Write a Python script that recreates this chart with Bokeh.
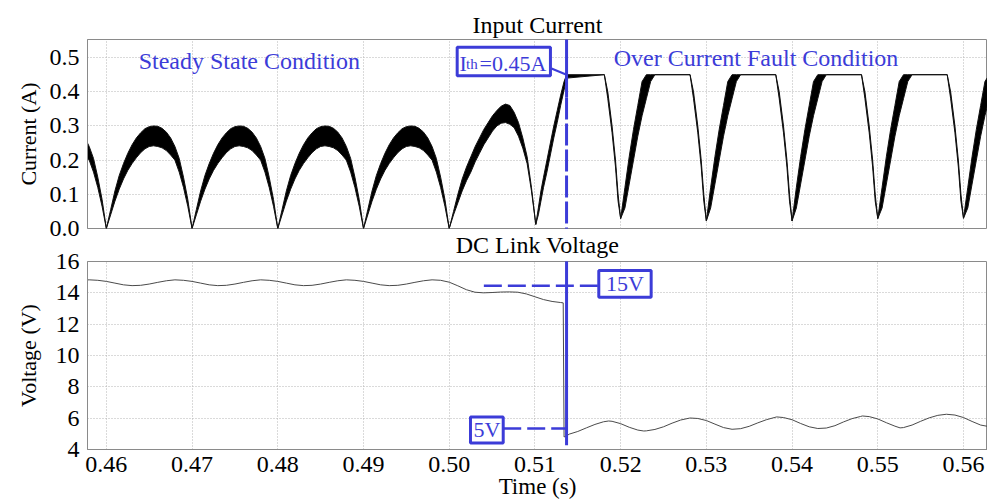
from bokeh.plotting import figure
from bokeh.layouts import column
from bokeh.models import (Range1d, FixedTicker, NumeralTickFormatter, Label,
                          BoxAnnotation, Arrow, Title)
from bokeh.embed import file_html
from bokeh.resources import INLINE

# ---------------- data ----------------
x_ticks = [0.46, 0.47, 0.48, 0.49, 0.50, 0.51, 0.52, 0.53, 0.54, 0.55, 0.56]
current_ticks = [0.0, 0.1, 0.2, 0.3, 0.4, 0.5]
voltage_ticks = [4, 6, 8, 10, 12, 14, 16]

# steady-state rectified current hump (fraction of a 10 ms cycle), ripple band edges
steady_phase = [0.0, 0.05, 0.10, 0.15, 0.20, 0.25, 0.30, 0.35, 0.40, 0.45, 0.50,
                0.55, 0.60, 0.65, 0.70, 0.75, 0.80, 0.85, 0.90, 0.95, 1.0]
steady_upper = [0.0, 0.055, 0.11, 0.155, 0.19, 0.22, 0.245, 0.265, 0.28, 0.292, 0.298,
                0.300, 0.299, 0.293, 0.282, 0.265, 0.24, 0.205, 0.15, 0.085, 0.0]
steady_lower = [0.0, 0.04, 0.08, 0.115, 0.145, 0.17, 0.19, 0.207, 0.222, 0.233, 0.240,
                0.242, 0.240, 0.236, 0.228, 0.215, 0.20, 0.165, 0.12, 0.065, 0.0]
steady_cycle_starts = [0.45, 0.46, 0.47, 0.48, 0.49]

# last hump before the fault (0.500 - 0.5101 s)
hump5_start = 0.500
hump5_length = 0.0101
hump5_upper = [0.0, 0.05, 0.10, 0.145, 0.18, 0.21, 0.24, 0.265, 0.29, 0.31, 0.33,
               0.345, 0.358, 0.364, 0.36, 0.34, 0.31, 0.265, 0.21, 0.12, 0.012]
hump5_lower = [0.0, 0.04, 0.075, 0.11, 0.14, 0.165, 0.195, 0.22, 0.245, 0.265, 0.285,
               0.30, 0.308, 0.31, 0.305, 0.295, 0.27, 0.235, 0.19, 0.11, 0.012]

# rise up to the threshold
rise_t = [0.5101, 0.5104, 0.5107, 0.5110, 0.5114, 0.5118, 0.5122, 0.5126, 0.5130, 0.5134, 0.5137]
rise_upper = [0.012, 0.06, 0.11, 0.15, 0.20, 0.25, 0.30, 0.345, 0.39, 0.43, 0.45]
rise_lower = [0.012, 0.04, 0.08, 0.12, 0.165, 0.215, 0.265, 0.31, 0.36, 0.405, 0.44]

# fault condition: current clamped at 0.45 A with dips every 10 ms
dip_centers = [0.5200, 0.5300, 0.5400, 0.5500, 0.5600]
dip_minimum = [0.029, 0.022, 0.022, 0.029, 0.030]
dip_offset = [-0.0019, -0.0015, -0.0010, -0.0006, -0.0003, 0.0, 0.0005, 0.0010,
              0.0015, 0.0020, 0.0025, 0.0030, 0.0035, 0.0040]
dip_upper = [0.45, 0.40, 0.30, 0.20, 0.10, None, 0.12, 0.21, 0.29, 0.36, 0.43, 0.45, 0.45, 0.45]
dip_lower = [0.45, 0.38, 0.28, 0.18, 0.08, None, 0.06, 0.13, 0.20, 0.27, 0.33, 0.38, 0.43, 0.45]

# DC link voltage
volt_t = [0.457, 0.458, 0.459, 0.460, 0.461, 0.462, 0.463, 0.464, 0.465, 0.466, 0.467,
          0.468, 0.469, 0.470, 0.471, 0.472, 0.473, 0.474, 0.475, 0.476, 0.477,
          0.478, 0.479, 0.480, 0.481, 0.482, 0.483, 0.484, 0.485, 0.486, 0.487,
          0.488, 0.489, 0.490, 0.491, 0.492, 0.493, 0.494, 0.495, 0.496, 0.497,
          0.498, 0.499, 0.500, 0.501, 0.502, 0.503, 0.504, 0.505, 0.506, 0.507,
          0.508, 0.509, 0.510, 0.511, 0.512, 0.513, 0.5133, 0.5134, 0.5137,
          0.514, 0.515, 0.516, 0.517, 0.518, 0.5186, 0.519, 0.520, 0.521, 0.522,
          0.5227, 0.523, 0.524, 0.525, 0.526, 0.527, 0.528, 0.5281, 0.529, 0.530,
          0.531, 0.532, 0.533, 0.534, 0.535, 0.536, 0.537, 0.538, 0.5382, 0.539,
          0.540, 0.541, 0.542, 0.543, 0.544, 0.545, 0.546, 0.547, 0.548, 0.5482,
          0.549, 0.550, 0.551, 0.552, 0.5526, 0.553, 0.554, 0.555, 0.556, 0.557,
          0.558, 0.559, 0.560, 0.561, 0.562, 0.5628]
volt_v = [14.80, 14.83, 14.80, 14.73, 14.62, 14.51, 14.46, 14.48, 14.56, 14.67, 14.77,
          14.83, 14.80, 14.73, 14.62, 14.51, 14.46, 14.48, 14.56, 14.67, 14.77,
          14.83, 14.80, 14.73, 14.62, 14.51, 14.46, 14.48, 14.56, 14.67, 14.77,
          14.83, 14.80, 14.73, 14.62, 14.51, 14.46, 14.48, 14.56, 14.67, 14.77,
          14.83, 14.80, 14.68, 14.45, 14.20, 14.04, 14.00, 14.02, 14.05, 14.06,
          14.04, 13.93, 13.75, 13.57, 13.45, 13.38, 13.36, 4.80, 4.87,
          4.98, 5.15, 5.38, 5.60, 5.77, 5.82, 5.80, 5.65, 5.42, 5.24,
          5.18, 5.19, 5.28, 5.45, 5.68, 5.88, 6.00, 6.01, 5.98, 5.85,
          5.62, 5.40, 5.29, 5.33, 5.48, 5.70, 5.90, 6.05, 6.08, 6.04,
          5.90, 5.66, 5.45, 5.34, 5.37, 5.52, 5.76, 5.97, 6.11, 6.14,
          6.10, 5.95, 5.71, 5.49, 5.38, 5.40, 5.56, 5.80, 6.02, 6.18,
          6.25, 6.20, 6.04, 5.79, 5.56, 5.48]

# annotation values
fault_time = 0.51369
threshold = 0.45
marker_half_width = 0.00017   # half of the 3 px marker line, in seconds

# ---------------- assemble the current band ----------------
cur_t, cur_up, cur_lo = [], [], []
for c in steady_cycle_starts:
    for ph, u, l in zip(steady_phase, steady_upper, steady_lower):
        cur_t.append(c + 0.01 * ph)
        cur_up.append(u)
        cur_lo.append(l)
for ph, u, l in zip(steady_phase, hump5_upper, hump5_lower):
    cur_t.append(hump5_start + hump5_length * ph)
    cur_up.append(u)
    cur_lo.append(l)
for t, u, l in zip(rise_t[1:], rise_upper[1:], rise_lower[1:]):
    cur_t.append(t)
    cur_up.append(u)
    cur_lo.append(l)
for c, m in zip(dip_centers, dip_minimum):
    for off, u, l in zip(dip_offset, dip_upper, dip_lower):
        cur_t.append(c + off)
        cur_up.append(m if u is None else u)
        cur_lo.append(m if l is None else l)

FONT = "Liberation Serif"
BLUE = "#3c3cd8"
AXIS_GREY = "#8a8a8a"
GRID_GREY = "#b4b4b4"


def style(p):
    p.background_fill_color = "white"
    p.outline_line_color = AXIS_GREY
    p.outline_line_width = 1
    for g in (p.xgrid, p.ygrid):
        g.grid_line_color = GRID_GREY
        g.grid_line_dash = "1 2"
        g.grid_line_width = 1


def style_title(t):
    t.text_font = FONT
    t.text_font_size = "24px"
    t.text_font_style = "normal"
    t.align = "center"
    t.text_color = "black"


def style_axis(ax):
    ax.axis_line_color = AXIS_GREY
    ax.axis_line_width = 1
    ax.major_tick_line_color = None
    ax.minor_tick_line_color = None
    ax.major_tick_out = 0
    ax.major_tick_in = 0
    ax.minor_tick_out = 0
    ax.major_label_text_font = FONT
    ax.major_label_text_font_size = "24px"
    ax.major_label_text_color = "black"
    ax.axis_label_text_font = FONT
    ax.axis_label_text_font_style = "normal"
    ax.axis_label_text_color = "black"


def blue_label(p, x, y, text, size, align="left"):
    p.add_layout(Label(x=x, y=y, text=text, text_font=FONT, text_font_size=size,
                       text_color=BLUE, text_align=align, text_baseline="middle",
                       level="overlay"))


def blue_box(p, left, right, bottom, top):
    p.add_layout(BoxAnnotation(left=left, right=right, bottom=bottom, top=top,
                               fill_color="white", fill_alpha=1.0, line_color=BLUE,
                               line_alpha=1.0, line_width=3, level="overlay"))


def marker_bar(p, bottom, top):
    p.add_layout(BoxAnnotation(left=fault_time - marker_half_width,
                               right=fault_time + marker_half_width,
                               bottom=bottom, top=top, fill_color=BLUE, fill_alpha=1.0,
                               line_color=None, level="overlay"))


x0, x1 = 0.4578, 0.5628

# ---------------- top panel ----------------
p1 = figure(width=987, height=258, x_range=Range1d(x0, x1), y_range=Range1d(0, 0.553),
            output_backend="svg", toolbar_location=None, x_axis_location=None,
            min_border_left=87, min_border_right=0, min_border_top=39, min_border_bottom=30)
style(p1)
p1.border_fill_color = "white"
p1.title.text = "Input Current"
style_title(p1.title)
p1.title.standoff = 3
bottom_title = Title(text="DC Link Voltage", standoff=2)
style_title(bottom_title)
p1.add_layout(bottom_title, "below")

p1.xgrid.ticker = FixedTicker(ticks=x_ticks)
p1.ygrid.ticker = FixedTicker(ticks=current_ticks)
ya = p1.yaxis[0]
style_axis(ya)
ya.ticker = FixedTicker(ticks=current_ticks)
ya.formatter = NumeralTickFormatter(format="0.0")
ya.axis_label = "Current (A)"
ya.axis_label_text_font_size = "22px"
ya.major_label_standoff = 8
ya.axis_label_standoff = 6

p1.varea(x=cur_t, y1=cur_lo, y2=cur_up, fill_color="black")
p1.line(cur_t, cur_up, line_color="#111111", line_width=1)
p1.line(cur_t, cur_lo, line_color="#111111", line_width=1)

blue_label(p1, 0.46377, 0.4904, "Steady State Condition", "24px")
blue_label(p1, 0.51919, 0.500, "Over Current Fault Condition", "24px")

# threshold box
blue_box(p1, 0.50093, 0.51181, 0.447, 0.530)
blue_label(p1, 0.50120, 0.4839, "I", "22px")
blue_label(p1, 0.50196, 0.4800, "th", "15px")
blue_label(p1, 0.50353, 0.4839, "=0.45A", "22px")
p1.add_layout(Arrow(x_start=0.51193, y_start=0.468, x_end=fault_time, y_end=threshold,
                    end=None, line_color=BLUE, line_width=2))

# fault marker line
p1.add_layout(Arrow(x_start=fault_time, y_start=0.56, x_end=fault_time, y_end=0.383,
                    end=None, line_color=BLUE, line_width=3))
p1.add_layout(Arrow(x_start=fault_time, y_start=0.383, x_end=fault_time, y_end=-0.05,
                    end=None, line_color=BLUE, line_width=3, line_dash="22 4"))
marker_bar(p1, -0.2, 0.0)   # continues below the frame, through the gap

# ---------------- bottom panel ----------------
# the canvas starts 14 px higher (transparent border) so the "16" tick label is not cut
p2 = figure(width=987, height=257, x_range=Range1d(x0, x1), y_range=Range1d(4, 16),
            output_backend="svg", toolbar_location=None, margin=(-14, 0, 0, 0),
            min_border_left=87, min_border_right=0, min_border_top=17, min_border_bottom=52)
style(p2)
p2.border_fill_color = None
xa = p2.xaxis[0]
style_axis(xa)
xa.ticker = FixedTicker(ticks=x_ticks)
xa.formatter = NumeralTickFormatter(format="0.00")
xa.axis_label = "Time (s)"
xa.axis_label_text_font_size = "23px"
xa.major_label_standoff = 7
xa.axis_label_standoff = -1
ya2 = p2.yaxis[0]
style_axis(ya2)
ya2.ticker = FixedTicker(ticks=voltage_ticks)
ya2.axis_label = "Voltage (V)"
ya2.axis_label_text_font_size = "22px"
ya2.major_label_standoff = 8
ya2.axis_label_standoff = 12
p2.xgrid.ticker = FixedTicker(ticks=x_ticks)
p2.ygrid.ticker = FixedTicker(ticks=voltage_ticks)

p2.line(volt_t, volt_v, line_color="#4a4a4a", line_width=1)

p2.add_layout(Arrow(x_start=fault_time, y_start=18.5, x_end=fault_time, y_end=4.27,
                    end=None, line_color=BLUE, line_width=3))
marker_bar(p2, 16.0, 18.0)   # continues above the frame, through the gap
# 15 V marker
p2.add_layout(Arrow(x_start=0.50404, y_start=14.45, x_end=0.51744, y_end=14.45,
                    end=None, line_color=BLUE, line_width=2.5, line_dash="18 6"))
blue_box(p2, 0.51745, 0.52356, 13.72, 15.42)
blue_label(p2, 0.5205, 14.57, "15V", "22px", align="center")
# 5 V marker
p2.add_layout(Arrow(x_start=0.5063, y_start=5.34, x_end=fault_time, y_end=5.34,
                    end=None, line_color=BLUE, line_width=2.5, line_dash="18 6"))
blue_box(p2, 0.50248, 0.5063, 4.42, 6.08)
blue_label(p2, 0.50439, 5.25, "5V", "22px", align="center")

layout = column(p1, p2, spacing=0)
open("out.html", "w").write(file_html(layout, INLINE))
